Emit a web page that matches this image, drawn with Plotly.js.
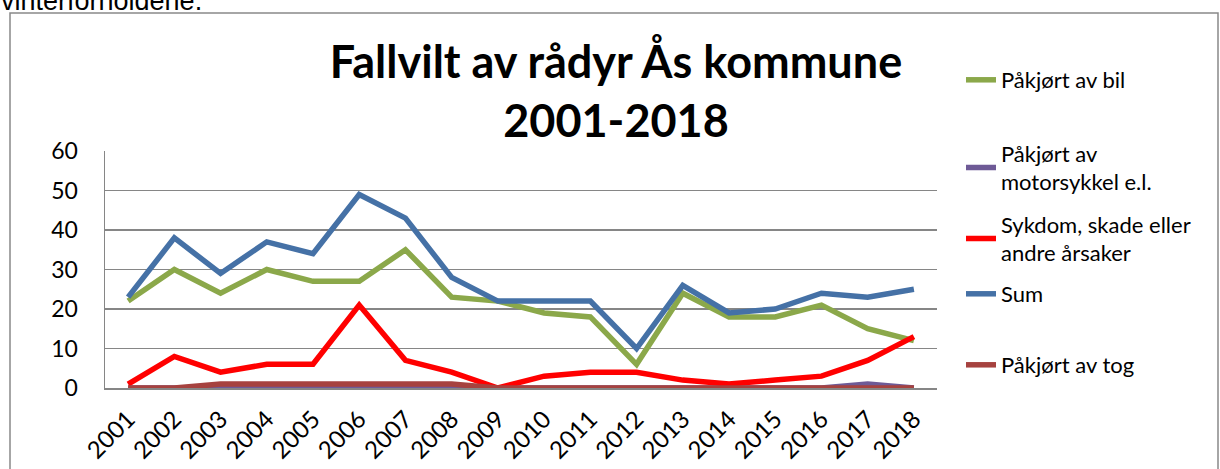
<!DOCTYPE html>
<html>
<head>
<meta charset="utf-8">
<script src="https://cdn.plot.ly/plotly-3.0.1.min.js"></script>
<style>
  html, body { margin: 0; padding: 0; background: #ffffff; }
  #chart { width: 1220px; height: 469px; }
</style>
</head>
<body>
<div id="chart"></div>
<script>
// ---- data ----
const years = ['2001','2002','2003','2004','2005','2006','2007','2008','2009',
               '2010','2011','2012','2013','2014','2015','2016','2017','2018'];
const pakjortBil        = [22, 30, 24, 30, 27, 27, 35, 23, 22, 19, 18, 6, 24, 18, 18, 21, 15, 12];
const pakjortMotorsykkel= [0, 0, 0, 0, 0, 0, 0, 0, 0, 0, 0, 0, 0, 0, 0, 0, 1, 0];
const sykdomSkade       = [1, 8, 4, 6, 6, 21, 7, 4, 0, 3, 4, 4, 2, 1, 2, 3, 7, 13];
const sumAll            = [23, 38, 29, 37, 34, 49, 43, 28, 22, 22, 22, 10, 26, 19, 20, 24, 23, 25];
const pakjortTog        = [0, 0, 1, 1, 1, 1, 1, 1, 0, 0, 0, 0, 0, 0, 0, 0, 0, 0];

const seriesNames = ['Påkjørt av bil', 'Påkjørt av<br>motorsykkel e.l.',
                     'Sykdom, skade eller<br>andre årsaker', 'Sum', 'Påkjørt av tog'];
const yTicks = [0, 10, 20, 30, 40, 50, 60];
const chartTitle = 'Fallvilt av rådyr Ås kommune<br>2001-2018';
const aboveText = 'vinterforholdene.';

// ---- styling ----
const FONT = 'Lato, "Open Sans", sans-serif';
const colors = ['#8BA84A', '#6E5A96', '#FF0000', '#4571A6', '#A6423F'];
const seriesValues = [pakjortBil, pakjortMotorsykkel, sykdomSkade, sumAll, pakjortTog];
const legendIds = ['legend', 'legend2', 'legend3', 'legend4', 'legend5'];

const traces = seriesValues.map((vals, i) => ({
  type: 'scatter',
  mode: 'lines',
  x: years,
  y: vals,
  name: seriesNames[i],
  legend: legendIds[i],
  line: { color: colors[i], width: 5.5 },
  hoverinfo: 'skip'
}));

// plot area in pixels: left 105, right 937, top 151, bottom 388
const L = 105, R = 937, T = 151, B = 388;
const W = 1220, H = 469;
const px2x = p => (p - L) / (R - L);
const py2y = p => (B - p) / (B - T);

const legendFont = { family: FONT, size: 22, color: '#000000' };
const legendY = [80, 168, 239, 294, 365];
const legendBase = {
  x: px2x(961), xanchor: 'left', yanchor: 'middle',
  bgcolor: 'rgba(0,0,0,0)', borderwidth: 0, font: legendFont,
  itemwidth: 30, valign: 'middle'
};

const layout = {
  width: W, height: H,
  margin: { l: L, r: W - R, t: T, b: H - B },
  paper_bgcolor: '#ffffff',
  plot_bgcolor: '#ffffff',
  showlegend: true,
  hovermode: false,
  title: {
    text: chartTitle,
    font: { family: FONT, size: 45, color: '#000000', weight: 'bold' },
    xref: 'paper', x: px2x(616), xanchor: 'center',
    yref: 'container', y: 1 - 78 / H, yanchor: 'top'
  },
  xaxis: {
    type: 'category',
    range: [-0.5, years.length - 0.5],
    showline: true, linecolor: '#868686', linewidth: 1.5,
    showgrid: false, zeroline: false,
    ticks: '', tickangle: -45,
    ticklabelstandoff: 6,
    tickfont: { family: FONT, size: 24, color: '#000000' },
    fixedrange: true
  },
  yaxis: {
    range: [0, 60],
    tickvals: yTicks,
    showline: true, linecolor: '#868686', linewidth: 1.5,
    showgrid: true, gridcolor: '#868686', gridwidth: 1.5,
    zeroline: false,
    ticks: '',
    ticklabelstandoff: 21,
    tickfont: { family: FONT, size: 23, color: '#000000' },
    fixedrange: true
  },
  shapes: [{
    type: 'rect', xref: 'paper', yref: 'paper',
    x0: px2x(10), x1: px2x(1218), y0: py2y(500), y1: py2y(13),
    line: { color: '#898989', width: 1.5 }, fillcolor: 'rgba(0,0,0,0)', layer: 'below'
  }],
  annotations: [{
    text: aboveText, showarrow: false,
    xref: 'paper', yref: 'paper',
    x: px2x(-1), xanchor: 'left',
    y: py2y(18), yanchor: 'bottom',
    font: { family: '"Liberation Sans", Arial, sans-serif', size: 27, color: '#000000' }
  }]
};

legendIds.forEach((id, i) => {
  layout[id] = Object.assign({}, legendBase, { y: py2y(legendY[i]) });
});

Plotly.newPlot('chart', traces, layout, { displayModeBar: false, staticPlot: true });
</script>
</body>
</html>
